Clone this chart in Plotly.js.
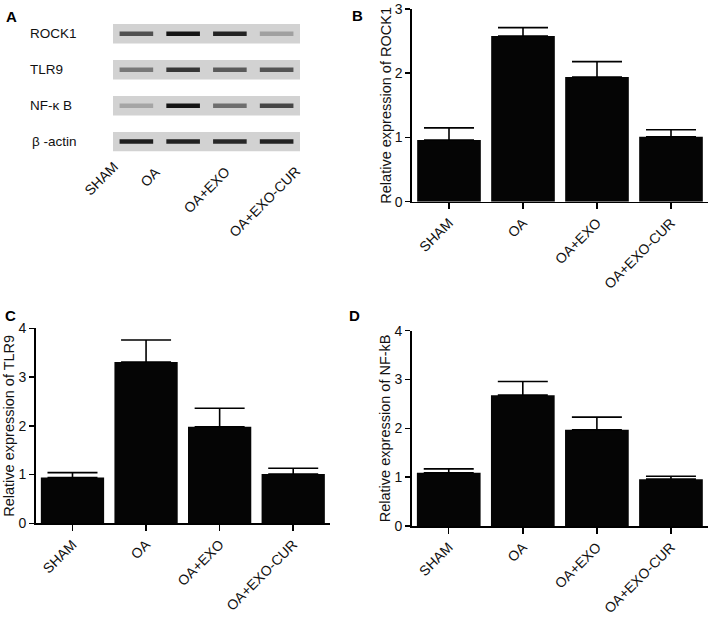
<!DOCTYPE html>
<html>
<head>
<meta charset="utf-8">
<script src="https://cdn.plot.ly/plotly-3.0.1.min.js"></script>
<style>html,body{margin:0;padding:0;background:#fff;}#chart{width:709px;height:618px;}</style>
</head>
<body>
<div id="chart"></div>
<script>
// ---- data ----
const groups = ["SHAM", "OA", "OA+EXO", "OA+EXO-CUR"];
const blotRows = ["ROCK1", "TLR9", "NF-κ B", "β -actin"];
// band darkness on the blot (0 = white, 255 = black), one row per protein, one value per lane
const bandROCK1 = [175, 235, 220, 95];
const bandTLR9 = [135, 200, 165, 170];
const bandNFkB = [90, 235, 145, 185];
const bandActin = [225, 222, 215, 220];

const rock1Mean = [0.96, 2.58, 1.94, 1.01];
const rock1Err = [0.19, 0.13, 0.24, 0.11];
const tlr9Mean = [0.94, 3.31, 1.98, 1.01];
const tlr9Err = [0.10, 0.45, 0.38, 0.12];
const nfkbMean = [1.09, 2.68, 1.97, 0.96];
const nfkbErr = [0.08, 0.28, 0.26, 0.06];
const noLower = [0, 0, 0, 0];

// ---- helpers ----
const W = 709, H = 618;
const FONT = "Liberation Sans, Arial, Helvetica, sans-serif";
const px = v => v / W;
const py = v => 1 - v / H;
const gray = d => { const g = 255 - d; return `rgb(${g},${g},${g})`; };

function barTrace(mean, err, xa, ya) {
  return {
    type: "bar", x: groups, y: mean, xaxis: xa, yaxis: ya,
    marker: { color: "#050505", line: { width: 0 } },
    error_y: { type: "data", symmetric: false, array: err, arrayminus: noLower,
               color: "#000", thickness: 1.6, width: 25 },
    hoverinfo: "skip"
  };
}

// blot bands as horizontal line markers
const bandRows = [bandROCK1, bandTLR9, bandNFkB, bandActin];
const bx = [], by = [], bc = [];
bandRows.forEach((row, r) => row.forEach((d, l) => { bx.push(l); by.push(r); bc.push(gray(d)); }));
const blotTrace = {
  type: "scatter", mode: "markers", x: bx, y: by, xaxis: "x4", yaxis: "y4",
  marker: { symbol: "line-ew", size: 24, color: bc, line: { color: bc, width: 4.5 } },
  hoverinfo: "skip"
};

const tickFont = { family: FONT, size: 14, color: "#111" };
const titleFont = { family: FONT, size: 14.5, color: "#111" };

function xAx(d0, d1, anchor) {
  return {
    domain: [px(d0), px(d1)], anchor: anchor, type: "category", range: [-0.5, 3.5],
    showline: true, linecolor: "#000", linewidth: 1.6, ticks: "outside", ticklen: 6,
    tickwidth: 1.5, tickcolor: "#000", tickangle: -45, tickfont: tickFont,
    showgrid: false, zeroline: false, fixedrange: true
  };
}
function yAx(top, bottom, maxV, anchor, title) {
  const vals = [];
  for (let v = 0; v <= maxV; v++) vals.push(v);
  return {
    domain: [py(bottom), py(top)], anchor: anchor, range: [0, maxV],
    tickmode: "array", tickvals: vals, ticktext: vals.map(String),
    ticklabeloverflow: "allow",
    showline: true, linecolor: "#000", linewidth: 1.6, ticks: "outside", ticklen: 5,
    tickwidth: 1.5, tickcolor: "#000", tickfont: tickFont, showgrid: false,
    zeroline: false, fixedrange: true,
    title: { text: title, font: titleFont, standoff: 0 }
  };
}

// strip backgrounds for the blot
const shapes = blotRows.map((_, r) => ({
  type: "rect", xref: "x4", yref: "y4", layer: "below",
  x0: -0.52, x1: 3.58, y0: r - 0.27, y1: r + 0.27,
  fillcolor: "#d2d2d2", line: { width: 0 }
}));

const annotations = blotRows.map((t, r) => ({
  text: t, xref: "paper", yref: "y4", x: px(t.startsWith("β") ? 30 : 28), y: r,
  xanchor: "left", yanchor: "middle", showarrow: false,
  font: { family: FONT, size: 13.5, color: "#111" }
}));
// lane labels under the blot (rotated), placed per lane
const laneShiftX = [-16, -20, 3, 26];
const laneShiftY = [2, -3, -3, -2];
groups.forEach((g, l) => {
  annotations.push({
    text: g, xref: "x4", yref: "paper", x: l, y: py(161),
    xshift: laneShiftX[l], yshift: laneShiftY[l],
    xanchor: "right", yanchor: "top", textangle: -45, showarrow: false,
    borderpad: 0, borderwidth: 0,
    font: { family: FONT, size: 14, color: "#111" }
  });
});
[["A", 4, 6], ["B", 350, 5], ["C", 3, 305], ["D", 347, 305]].forEach(([t, x, y]) => {
  annotations.push({ text: "<b>" + t + "</b>", xref: "paper", yref: "paper",
    x: px(x), y: py(y), xanchor: "left", yanchor: "top", showarrow: false,
    font: { family: FONT, size: 15, color: "#000" } });
});

const layout = {
  width: W, height: H, margin: { l: 0, r: 0, t: 0, b: 0 },
  paper_bgcolor: "#fff", plot_bgcolor: "rgba(0,0,0,0)", showlegend: false,
  bargap: 0.14,
  xaxis: xAx(412, 708, "y"),
  yaxis: yAx(9, 201.7, 3, "x", "Relative expression of ROCK1"),
  xaxis2: xAx(35.7, 330, "y2"),
  yaxis2: yAx(328.3, 523.3, 4, "x2", "Relative expression of TLR9"),
  xaxis3: xAx(411.7, 708, "y3"),
  yaxis3: yAx(330.7, 526, 4, "x3", "Relative expression of NF-kB"),
  xaxis4: {
    domain: [px(113), px(300)], anchor: "y4", range: [-0.5, 3.5],
    showticklabels: false, showline: false, ticks: "", showgrid: false,
    zeroline: false, fixedrange: true
  },
  yaxis4: {
    domain: [py(156), py(14)], anchor: "x4", range: [3.4, -0.55],
    showticklabels: false, showline: false, ticks: "", showgrid: false,
    zeroline: false, fixedrange: true
  },
  shapes: shapes,
  annotations: annotations
};

Plotly.newPlot("chart", [
  barTrace(rock1Mean, rock1Err, "x", "y"),
  barTrace(tlr9Mean, tlr9Err, "x2", "y2"),
  barTrace(nfkbMean, nfkbErr, "x3", "y3"),
  blotTrace
], layout, { displayModeBar: false, staticPlot: true });
</script>
</body>
</html>
